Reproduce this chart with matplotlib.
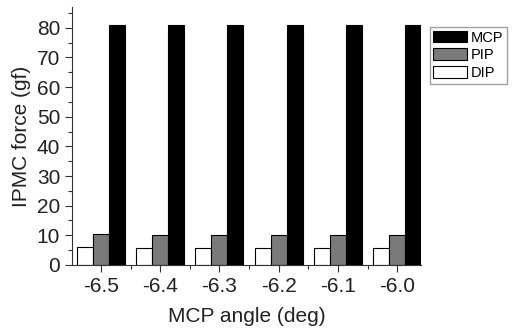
import matplotlib.pyplot as plt
import numpy as np
from matplotlib.ticker import MultipleLocator

plt.rcParams['font.family'] = ['Liberation Sans', 'DejaVu Sans']

# MCP angle categories and joint forces (gf)
angulos = ["-6.5", "-6.4", "-6.3", "-6.2", "-6.1", "-6.0"]
dip = [5.9, 5.8, 5.8, 5.8, 5.8, 5.8]
pip = [10.4, 10.2, 10.2, 10.2, 10.2, 10.2]
mcp = [80.8, 80.8, 80.8, 80.8, 80.8, 80.8]

x = np.arange(len(angulos))
w = 0.27

fig = plt.figure(figsize=(5.14, 3.30), dpi=100)
ax = fig.add_axes([0.140, 0.197, 0.68, 0.782])

ax.bar(x - w, dip, w, color="white", edgecolor="black", linewidth=0.8, label="DIP")
ax.bar(x, pip, w, color="#7a7a7a", edgecolor="black", linewidth=0.8, label="PIP")
ax.bar(x + w, mcp, w, color="black", edgecolor="black", linewidth=0.8, label="MCP")

ax.set_xlim(-0.49, 5.41)
ax.set_ylim(0, 87)
ax.set_xticks(x)
ax.set_xticklabels(angulos)
ax.xaxis.set_minor_locator(MultipleLocator(0.5))
ax.yaxis.set_major_locator(MultipleLocator(10))
ax.yaxis.set_minor_locator(MultipleLocator(5))
ax.tick_params(which="major", direction="out", length=5, width=0.8, labelsize=15, colors="#333333", labelcolor="#222222")
ax.tick_params(which="minor", direction="out", length=3, width=0.8, colors="#333333")
ax.spines["top"].set_visible(False)
ax.spines["right"].set_visible(False)
for s in ["left", "bottom"]:
    ax.spines[s].set_color("#333333")
    ax.spines[s].set_linewidth(0.8)

ax.set_xlabel("MCP angle (deg)", fontsize=15, color="#222222", labelpad=8)
ax.set_ylabel("IPMC force (gf)", fontsize=15, color="#222222", labelpad=4)

h, l = ax.get_legend_handles_labels()
leg = fig.legend(h[::-1], l[::-1], loc="upper left", bbox_to_anchor=(0.836, 0.918),
                 fontsize=10.5, frameon=True, fancybox=False, borderpad=0.25,
                 labelspacing=0.25, handlelength=2.3, handleheight=0.85,
                 handletextpad=0.25, borderaxespad=0)
leg.get_frame().set_edgecolor("#888888")
leg.get_frame().set_linewidth(1.0)

plt.savefig("out.png", dpi=100)
